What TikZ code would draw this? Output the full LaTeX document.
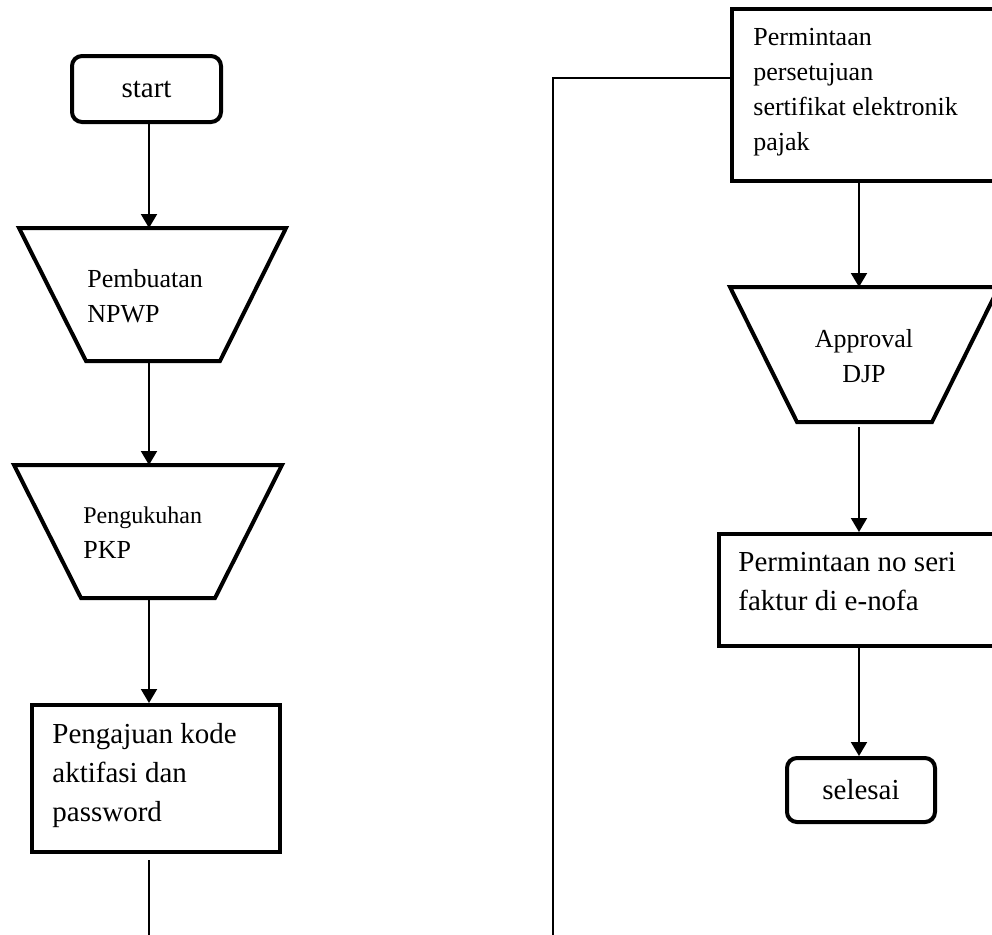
\documentclass[tikz,border=0pt]{standalone}
\usepackage{fontspec}
\setmainfont{Liberation Serif}
\usetikzlibrary{arrows.meta}
\begin{document}
\begin{tikzpicture}[x=0.5pt,y=-0.5pt,
  thickline/.style={line width=2pt},
  conn/.style={line width=1pt},
  arr/.style={conn,-{Triangle[width=8pt,length=7pt]}},
  termbox/.style={draw,line width=2pt,rounded corners=5pt,inner sep=0pt,font=\fontsize{14.5}{19}\selectfont},
  procbox/.style={draw,line width=2pt,inner sep=0pt},
  frame/.style={draw=none,inner sep=0pt,outer sep=1pt},
  big/.style={font=\fontsize{14.5}{19.5}\selectfont},
  mid/.style={font=\fontsize{13}{17.5}\selectfont},
  lbl/.style={anchor=base west,align=left,inner sep=0pt}
]
\useasboundingbox (0,0) rectangle (992,934);
\clip (0,0) rectangle (992,934);
% column coordinates
\coordinate (colL) at (149,0);
\coordinate (colR) at (859,0);
\coordinate (endL) at (149,945);
\coordinate (endR) at (553,945);

% left column
\node[termbox,minimum width=74.5pt,minimum height=33pt] (start) at (146.5,89) {start};
\node[frame,minimum width=131.5pt,minimum height=64.5pt] (t1) at (152.5,294.5) {};
\draw[thickline] (t1.north west) -- (t1.north east) -- ([xshift=-33pt]t1.south east) -- ([xshift=33.5pt]t1.south west) -- cycle;
\node[lbl,mid] (t1txt) at (87,322) {Pembuatan\\NPWP};

\node[frame,minimum width=132pt,minimum height=64.5pt] (t2) at (148,531.5) {};
\draw[thickline] (t2.north west) -- (t2.north east) -- ([xshift=-33.5pt]t2.south east) -- ([xshift=33.5pt]t2.south west) -- cycle;
\node[lbl,mid] (t2txt) at (83,558) {{\fontsize{12}{17.5}\selectfont Pengukuhan}\\PKP};

\node[procbox,minimum width=124pt,minimum height=73.5pt] (box3) at (156,778.5) {};
\node[lbl,big] (b3txt) at (52,821) {Pengajuan kode\\aktifasi dan\\password};

\draw[arr] (start.south -| colL) -- (t1.north -| colL);
\draw[arr] (t1.south -| colL) -- (t2.north -| colL);
\draw[arr] (t2.south -| colL) -- (box3.north -| colL);
\draw[conn] ([yshift=-3pt]box3.south -| colL) -- (endL);

% right column
\node[procbox,minimum width=134pt,minimum height=86pt] (box4) at (866,95) {};
\node[lbl,mid] (b4txt) at (753,150) {Permintaan\\persetujuan\\sertifikat elektronik\\pajak};

\node[frame,minimum width=132.5pt,minimum height=65.5pt] (t3) at (864.5,354.5) {};
\draw[thickline] (t3.north west) -- (t3.north east) -- ([xshift=-33.5pt]t3.south east) -- ([xshift=33.5pt]t3.south west) -- cycle;
\node[anchor=base,align=center,inner sep=0pt,mid] (t3txt) at (864,382) {Approval\\DJP};

\node[procbox,minimum width=140.5pt,minimum height=56pt] (box5) at (859.5,590) {};
\node[lbl,big] (b5txt) at (738,610) {Permintaan no seri\\faktur di e-nofa};

\node[termbox,minimum width=74pt,minimum height=32pt] (sel) at (861,790) {selesai};

\draw[arr] (box4.south -| colR) -- (t3.north -| colR);
\draw[arr] ([yshift=-2.5pt]t3.south -| colR) -- (box5.north -| colR);
\draw[arr] (box5.south -| colR) -- (sel.north -| colR);
\draw[conn] ([yshift=8.5pt]box4.west) -| (endR);
\end{tikzpicture}
\end{document}
